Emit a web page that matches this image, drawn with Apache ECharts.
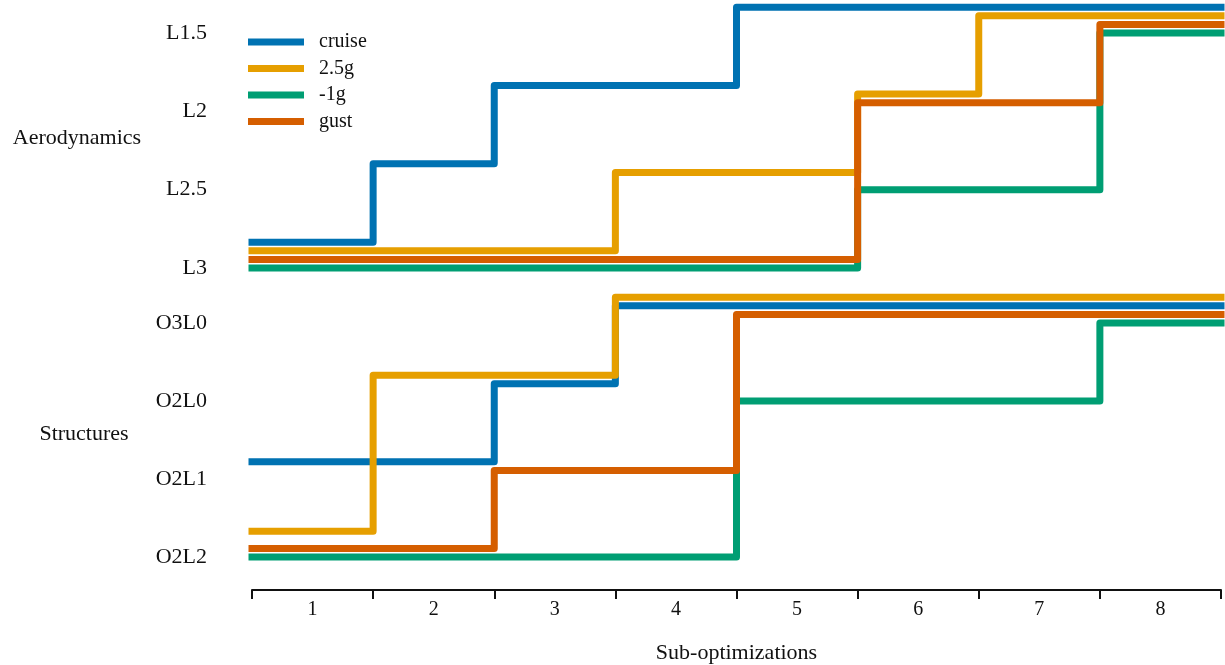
<!DOCTYPE html>
<html>
<head>
<meta charset="utf-8">
<script src="https://cdn.jsdelivr.net/npm/echarts@6/dist/echarts.min.js"></script>
<style>
  html, body { margin: 0; padding: 0; background: #fff; }
  #chart { width: 1225px; height: 665px; }
</style>
</head>
<body>
<div id="chart"></div>
<script>
// Fidelity level reached in each of the 8 sub-optimizations (index into the level labels)
const subOpts = ['1', '2', '3', '4', '5', '6', '7', '8'];
const seriesNames = ['cruise', '2.5g', '-1g', 'gust'];

const aeroLevels = ['L3', 'L2.5', 'L2', 'L1.5'];
const aeroCruise = [0, 1, 2, 2, 3, 3, 3, 3];
const aero25g    = [0, 0, 0, 1, 1, 2, 3, 3];
const aeroM1g    = [0, 0, 0, 0, 0, 1, 1, 3];
const aeroGust   = [0, 0, 0, 0, 0, 2, 2, 3];

const structLevels = ['O2L2', 'O2L1', 'O2L0', 'O3L0'];
const structCruise = [1, 1, 2, 3, 3, 3, 3, 3];
const struct25g    = [0, 2, 2, 3, 3, 3, 3, 3];
const structM1g    = [0, 0, 0, 0, 2, 2, 2, 3];
const structGust   = [0, 0, 1, 1, 3, 3, 3, 3];

const colors = { 'cruise': '#0072B2', '2.5g': '#E69F00', '-1g': '#009E73', 'gust': '#D55E00' };

// Small vertical lanes so overlapping load cases stay visible
const laneStep = 0.11;
const aeroLane   = { 'cruise': 3, '2.5g': 2, 'gust': 1, '-1g': 0 };
const structLane = { '2.5g': 3, 'cruise': 2, 'gust': 1, '-1g': 0 };

const FONT = '"Liberation Serif", "DejaVu Serif", serif';

function stepPoints(levels, lane) {
  const off = lane * laneStep;
  const pts = levels.map((v, i) => [i, v + off]);
  pts.push([levels.length, levels[levels.length - 1] + off]);
  return pts;
}

function makeSeries(name, levels, lane, panel) {
  return {
    name: name,
    type: 'line',
    step: 'end',
    xAxisIndex: panel,
    yAxisIndex: panel,
    data: stepPoints(levels, lane),
    showSymbol: false,
    symbol: 'none',
    clip: false,
    animation: false,
    lineStyle: { color: colors[name], width: 7, cap: 'square', join: 'round' },
    itemStyle: { color: colors[name] },
    emphasis: { disabled: true }
  };
}

const aeroData   = { 'cruise': aeroCruise, '2.5g': aero25g, '-1g': aeroM1g, 'gust': aeroGust };
const structData = { 'cruise': structCruise, '2.5g': struct25g, '-1g': structM1g, 'gust': structGust };

const series = [];
seriesNames.forEach(n => series.push(makeSeries(n, aeroData[n], aeroLane[n], 0)));
seriesNames.forEach(n => series.push(makeSeries(n, structData[n], structLane[n], 1)));

const yLabelStyle = { color: '#111', fontFamily: FONT, fontSize: 22, margin: 45 };

const option = {
  backgroundColor: '#fff',
  animation: false,
  textStyle: { fontFamily: FONT },
  legend: {
    data: seriesNames,
    orient: 'vertical',
    left: 243,
    top: 27,
    icon: 'rect',
    itemWidth: 56,
    itemHeight: 7,
    itemGap: 6.5,
    textStyle: { color: '#111', fontFamily: FONT, fontSize: 20, lineHeight: 20, padding: [0, 0, 0, 10] }
  },
  grid: [
    { left: 252, right: 4, top: 33, height: 235 },
    { left: 252, right: 4, top: 323, height: 234 }
  ],
  xAxis: [
    { type: 'value', gridIndex: 0, min: 0, max: 8, show: false },
    { type: 'value', gridIndex: 1, min: 0, max: 8, show: false },
    {
      type: 'category', gridIndex: 1, data: subOpts, boundaryGap: true, position: 'bottom', offset: 33,
      axisLine: { show: true, lineStyle: { color: '#111', width: 2 } },
      axisTick: { show: true, interval: 0, alignWithLabel: false, length: 9, lineStyle: { color: '#111', width: 2 } },
      axisLabel: { color: '#111', fontFamily: FONT, fontSize: 20, margin: 10, interval: 0 },
      name: 'Sub-optimizations', nameLocation: 'middle', nameGap: 52,
      nameTextStyle: { color: '#111', fontFamily: FONT, fontSize: 22 }
    }
  ],
  yAxis: [
    {
      type: 'value', gridIndex: 0, min: 0, max: 3, interval: 1,
      axisLine: { show: false }, axisTick: { show: false }, splitLine: { show: false },
      axisLabel: Object.assign({ formatter: v => aeroLevels[v] }, yLabelStyle)
    },
    {
      type: 'value', gridIndex: 1, min: 0, max: 3, interval: 1,
      axisLine: { show: false }, axisTick: { show: false }, splitLine: { show: false },
      axisLabel: Object.assign({ formatter: v => structLevels[v] }, yLabelStyle)
    }
  ],
  graphic: [
    { type: 'text', x: 77, y: 138, style: { text: 'Aerodynamics', fill: '#111', font: '22px ' + FONT, textAlign: 'center', textVerticalAlign: 'middle' } },
    { type: 'text', x: 84, y: 434, style: { text: 'Structures', fill: '#111', font: '22px ' + FONT, textAlign: 'center', textVerticalAlign: 'middle' } }
  ],
  series: series
};

const chart = echarts.init(document.getElementById('chart'), null, { renderer: 'canvas' });
chart.setOption(option);
</script>
</body>
</html>
